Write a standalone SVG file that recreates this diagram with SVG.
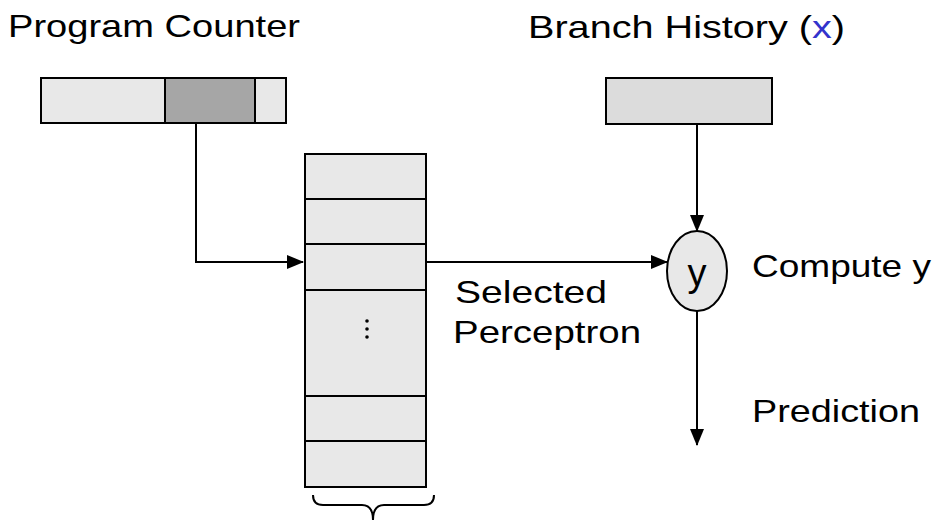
<svg xmlns="http://www.w3.org/2000/svg" width="949" height="524" viewBox="0 0 949 524">
  <style>
    .lbl { font-family: "Liberation Sans", "DejaVu Sans", sans-serif; font-size: 32px; fill: #000; }
    .box { stroke: #000; stroke-width: 2; }
    .light { fill: #e8e8e8; }
    .wire { fill: none; stroke: #000; stroke-width: 2; }
  </style>
  <defs>
    <marker id="arrow" markerWidth="17" markerHeight="14" refX="16" refY="7" orient="auto" markerUnits="userSpaceOnUse">
      <path d="M0,0 L17,7 L0,14 Z" fill="#000"/>
    </marker>
  </defs>

  <rect width="949" height="524" fill="#fff"/>

  <!-- Labels -->
  <text class="lbl" x="8" y="37" textLength="292" lengthAdjust="spacingAndGlyphs">Program Counter</text>
  <text class="lbl" x="528" y="38" textLength="317" lengthAdjust="spacingAndGlyphs">Branch History (<tspan fill="#3333cc">x</tspan>)</text>
  <text class="lbl" x="752" y="277" textLength="179" lengthAdjust="spacingAndGlyphs">Compute y</text>
  <text class="lbl" x="455" y="303" textLength="152" lengthAdjust="spacingAndGlyphs">Selected</text>
  <text class="lbl" x="453" y="343" textLength="188" lengthAdjust="spacingAndGlyphs">Perceptron</text>
  <text class="lbl" x="752" y="422" textLength="168" lengthAdjust="spacingAndGlyphs">Prediction</text>

  <!-- Program counter register -->
  <g id="program-counter">
    <rect class="box light" x="41" y="78" width="245" height="45"/>
    <rect class="box" x="165" y="78" width="90" height="45" fill="#a6a6a6"/>
  </g>

  <!-- Branch history register -->
  <g id="branch-history">
    <rect class="box" x="606" y="78" width="166" height="46" fill="#dcdcdc"/>
  </g>

  <!-- Perceptron table -->
  <g id="perceptron-table">
    <rect class="box light" x="305" y="154" width="121" height="333"/>
    <line class="wire" x1="305" y1="199" x2="426" y2="199"/>
    <line class="wire" x1="305" y1="244" x2="426" y2="244"/>
    <line class="wire" x1="305" y1="290" x2="426" y2="290"/>
    <line class="wire" x1="305" y1="396" x2="426" y2="396"/>
    <line class="wire" x1="305" y1="441" x2="426" y2="441"/>
    <circle cx="367" cy="321" r="1.8" fill="#000"/>
    <circle cx="367" cy="329" r="1.8" fill="#000"/>
    <circle cx="367" cy="337" r="1.8" fill="#000"/>
    <path class="wire" d="M313,495 Q313,505 323,505 L362,505 Q373,505 373,520 Q373,505 384,505 L424,505 Q434,505 434,495"/>
  </g>

  <!-- Compute node -->
  <g id="compute-y">
    <ellipse class="box light" cx="697" cy="271" rx="30" ry="40"/>
    <text class="lbl" x="697" y="286" text-anchor="middle" style="font-size:38px">y</text>
  </g>

  <!-- Connectors -->
  <g id="connectors">
    <path class="wire" d="M196,123 L196,262 L303,262" marker-end="url(#arrow)"/>
    <path class="wire" d="M426,262 L667,262" marker-end="url(#arrow)"/>
    <path class="wire" d="M697,124 L697,231" marker-end="url(#arrow)"/>
    <path class="wire" d="M697,311 L697,445" marker-end="url(#arrow)"/>
  </g>
</svg>
